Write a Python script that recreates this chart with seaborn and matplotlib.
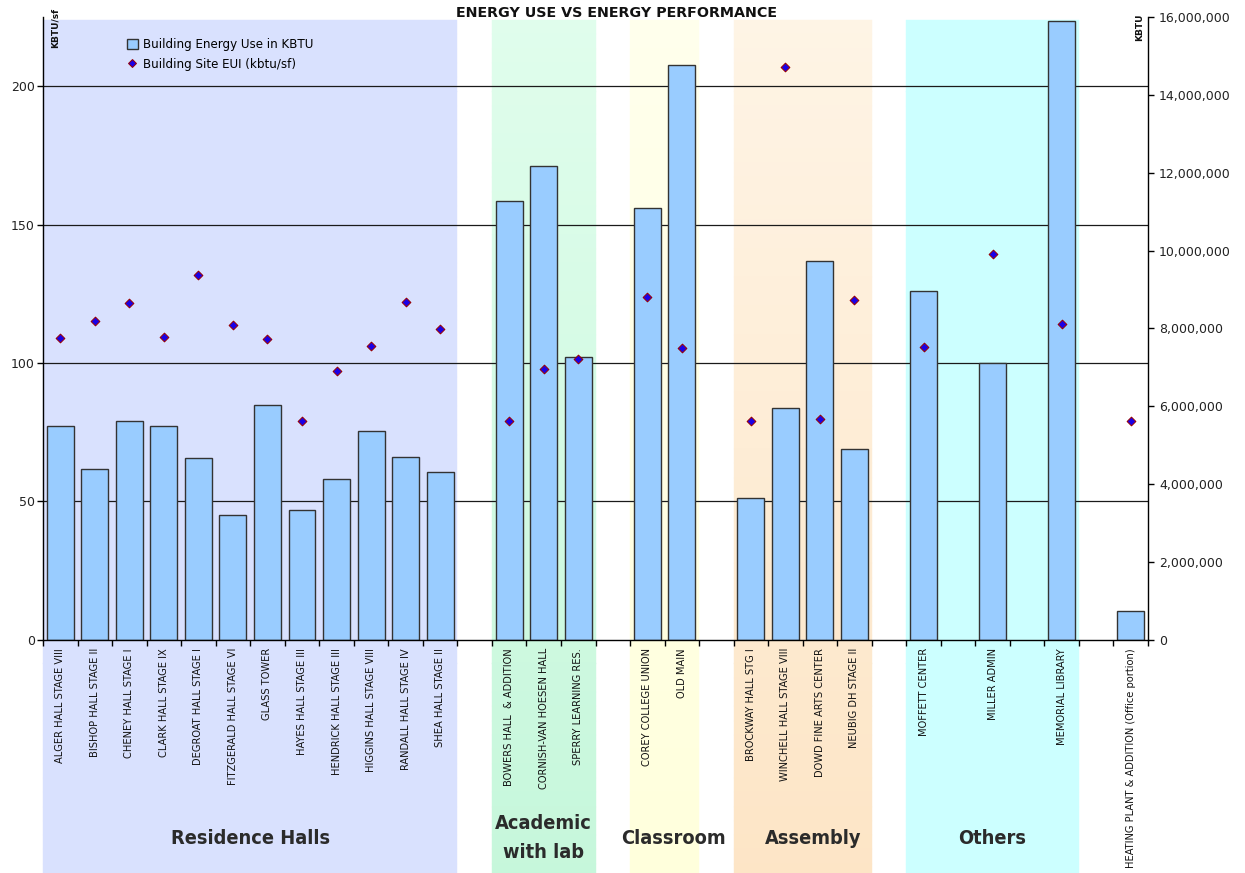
import os
import numpy as np
import pandas as pd
import matplotlib
matplotlib.use("Agg")
import matplotlib.pyplot as plt
import matplotlib.transforms as mtransforms
from matplotlib import font_manager
from matplotlib.patches import Rectangle, Patch
from matplotlib.lines import Line2D
from matplotlib.ticker import FuncFormatter, MultipleLocator, FixedLocator
import seaborn as sns

# ---- data ---------------------------------------------------------------
# One entry per x slot; "" is an empty spacer slot between building groups.
buildings = [
    "ALGER HALL STAGE VIII", "BISHOP HALL STAGE II", "CHENEY HALL STAGE I",
    "CLARK HALL STAGE IX", "DEGROAT HALL STAGE I", "FITZGERALD HALL STAGE VI",
    "GLASS TOWER", "HAYES HALL STAGE III", "HENDRICK HALL STAGE III",
    "HIGGINS HALL STAGE VIII", "RANDALL HALL STAGE IV", "SHEA HALL STAGE II",
    "",
    "BOWERS HALL  & ADDITION", "CORNISH-VAN HOESEN HALL", "SPERRY LEARNING RES.",
    "",
    "COREY COLLEGE UNION", "OLD MAIN",
    "",
    "BROCKWAY HALL STG I", "WINCHELL HALL STAGE VIII", "DOWD FINE ARTS CENTER",
    "NEUBIG DH STAGE II",
    "",
    "MOFFETT CENTER", "", "MILLER ADMIN", "", "MEMORIAL LIBRARY", "",
    "HEATING PLANT & ADDITION (Office portion)",
]

nan = np.nan
energy_kbtu = [
    5.50e6, 4.39e6, 5.63e6, 5.50e6, 4.68e6, 3.20e6, 6.04e6, 3.34e6, 4.13e6,
    5.35e6, 4.70e6, 4.30e6,
    nan,
    11.26e6, 12.16e6, 7.26e6,
    nan,
    11.10e6, 14.76e6,
    nan,
    3.63e6, 5.95e6, 9.74e6, 4.89e6,
    nan,
    8.95e6, nan, 7.12e6, nan, 15.89e6, nan,
    0.75e6,
]

site_eui = [
    108.9, 115.0, 121.7, 109.4, 131.7, 113.7, 108.5, 78.9, 97.0,
    106.1, 122.1, 112.1,
    nan,
    79.1, 97.7, 101.4,
    nan,
    123.8, 105.4,
    nan,
    79.1, 206.9, 79.6, 122.6,
    nan,
    105.6, nan, 139.2, nan, 114.0, nan,
    79.0,
]

group_names = ["Residence Halls", "Academic\nwith lab", "Classroom", "Assembly", "Others"]
group_first = ["ALGER HALL STAGE VIII", "BOWERS HALL  & ADDITION", "COREY COLLEGE UNION",
               "BROCKWAY HALL STG I", "MOFFETT CENTER"]
group_last = ["SHEA HALL STAGE II", "SPERRY LEARNING RES.", "OLD MAIN",
              "NEUBIG DH STAGE II", "MEMORIAL LIBRARY"]

# ---- styling ------------------------------------------------------------
group_top_colors = ["#D9E1FE", "#E0FDEC", "#FFFFEC", "#FEF4E5", "#CCFFFF"]
group_bottom_colors = ["#D9E1FE", "#C6F7DB", "#FFFFDC", "#FDE5C6", "#CCFFFF"]
group_label_shift = [0.0, 0.0, 0.25, 0.3, 0.0]
BAR_COLOR = "#99CCFF"
BAR_EDGE = "#333333"
DOT_FACE = "#1A00E6"
DOT_EDGE = "#990000"
LEFT_MAX = 225
RIGHT_MAX = 16e6


def font_file(candidates):
    """Return FontProperties for the first installed file among candidates."""
    files = {os.path.basename(f.fname).lower(): f.fname
             for f in font_manager.fontManager.ttflist}
    for c in candidates:
        if c.lower() in files:
            return font_manager.FontProperties(fname=files[c.lower()])
    return None


narrow_fp = font_file([
    "LiberationSansNarrow-Regular.ttf", "DejaVuSansCondensed.ttf",
    "RobotoCondensed-Regular.ttf", "NotoSans-Condensed.ttf",
    "NotoSans-CondensedRegular.ttf", "OpenSans-CondensedRegular.ttf",
]) or font_manager.FontProperties(family="DejaVu Sans")

heavy_fp = font_file([
    "NotoSans-CondensedBlack.ttf", "NotoSans-ExtraCondensedBlack.ttf",
    "NotoSans-CondensedExtraBold.ttf", "LiberationSansNarrow-Bold.ttf",
    "DejaVuSansCondensed-Bold.ttf", "RobotoCondensed-Bold.ttf",
    "NotoSans-CondensedBold.ttf", "OpenSans-CondensedBold.ttf",
]) or font_manager.FontProperties(family="DejaVu Sans", weight="bold")

plt.rcParams["font.family"] = ["DejaVu Sans"]

df = pd.DataFrame({
    "slot": np.arange(len(buildings)),
    "label": buildings,
    "kbtu": energy_kbtu,
    "eui": site_eui,
})

W, H = 1245, 873
fig = plt.figure(figsize=(W / 100, H / 100), dpi=100)
ax_left_px, ax_right_px, ax_top_px, ax_bot_px = 43, 1148, 17, 639.7
ax = fig.add_axes([ax_left_px / W, 1 - ax_bot_px / H,
                   (ax_right_px - ax_left_px) / W, (ax_bot_px - ax_top_px) / H])

# bars (energy use, right-hand scale)
sns.barplot(data=df.dropna(subset=["kbtu"]), x="slot", y="kbtu", native_scale=True,
            width=0.78, color=BAR_COLOR, edgecolor=BAR_EDGE, linewidth=1.0,
            saturation=1, ax=ax, zorder=2)

# site EUI diamonds (left-hand scale)
ax2 = ax.twinx()
sns.scatterplot(data=df.dropna(subset=["eui"]), x="slot", y="eui", marker="D", s=20,
                color=DOT_FACE, edgecolor=DOT_EDGE, linewidth=0.7, ax=ax2,
                zorder=3, legend=False)

n = len(buildings)
ax.set_xlim(-0.5, n - 0.5)
ax.set_ylim(0, RIGHT_MAX)
ax2.set_ylim(0, LEFT_MAX)
for a in (ax, ax2):
    a.set_xlabel("")
    a.set_ylabel("")

# y axes: energy on the right, EUI on the left
ax.yaxis.tick_right()
ax.yaxis.set_major_locator(MultipleLocator(2e6))
ax.yaxis.set_major_formatter(FuncFormatter(lambda v, p: f"{v:,.0f}"))
ax.tick_params(axis="y", direction="out", length=4, width=1, pad=4,
               labelsize=9, labelcolor="#222222", right=True, left=False)
ax2.yaxis.tick_left()
ax2.yaxis.set_major_locator(MultipleLocator(50))
ax2.tick_params(axis="y", direction="out", length=4, width=1, pad=2,
                labelsize=9, labelcolor="#222222", left=True, right=False)

# x axis: names at slot centres, tick marks between slots
ax.xaxis.set_major_locator(FixedLocator(df["slot"].tolist()))
ax.set_xticklabels(buildings, rotation=90, va="top", ha="center",
                   fontproperties=narrow_fp, fontsize=8, color="#111111")
ax.xaxis.set_minor_locator(FixedLocator(np.arange(-0.5, n, 1.0)))
ax.tick_params(axis="x", which="major", length=0, pad=6)
ax.tick_params(axis="x", which="minor", direction="out", length=4, width=1)

ax.spines["top"].set_visible(False)
for s in ["left", "right", "bottom"]:
    ax.spines[s].set_color("#000000")
    ax.spines[s].set_linewidth(1.0)
for s in ax2.spines:
    ax2.spines[s].set_visible(False)
ax.set_facecolor("none")

# horizontal grid at the EUI ticks, drawn behind the bars
for v in ax2.get_yticks():
    if 0 < v < LEFT_MAX:
        ax.axhline(v * RIGHT_MAX / LEFT_MAX, color="#1A1A1A", lw=0.9, zorder=1)

# group background bands, running down through the label area
xform = ax.get_xaxis_transform()
band_top = (ax_bot_px - 20) / (ax_bot_px - ax_top_px)
band_bot = (ax_bot_px - H - 5) / (ax_bot_px - ax_top_px)
label_xform = mtransforms.blended_transform_factory(ax.transData, fig.transFigure)
strips = 60
group_texts = []
for name, first, last, ctop, cbot, shift in zip(group_names, group_first, group_last,
                                                 group_top_colors, group_bottom_colors,
                                                 group_label_shift):
    i0, i1 = buildings.index(first), buildings.index(last)
    x0, x1 = i0 - 0.5, i1 + 0.5
    c_top = np.array(matplotlib.colors.to_rgb(ctop))
    c_bot = np.array(matplotlib.colors.to_rgb(cbot))
    edges = np.linspace(band_top, band_bot, strips + 1)
    for k in range(strips):
        t = (k + 0.5) / strips
        col = c_top * (1 - t) + c_bot * t
        ax.add_patch(Rectangle((x0, edges[k + 1]), x1 - x0, edges[k] - edges[k + 1],
                               transform=xform, facecolor=col, edgecolor=col, lw=0.3,
                               clip_on=False, zorder=0))
    group_texts.append(ax.text((x0 + x1) / 2 + shift, 1 - 838 / H, name,
                               transform=label_xform, ha="center", va="center",
                               fontproperties=heavy_fp, fontsize=17, color="#2B2B2B",
                               linespacing=1.7, clip_on=False))

# titles and axis captions
fig.text(616 / W, 1 - 13 / H, "ENERGY USE VS ENERGY PERFORMANCE", ha="center",
         va="center", fontsize=10.3, fontweight="bold", color="#111111")
fig.text(55 / W, 1 - 28 / H, "KBTU/sf", rotation=90, ha="center", va="center",
         fontsize=6.5, fontweight="bold", color="#111111")
fig.text(1140 / W, 1 - 27 / H, "KBTU", rotation=90, ha="center", va="center",
         fontsize=6.5, fontweight="bold", color="#111111")

# legend
handles = [
    Patch(facecolor=BAR_COLOR, edgecolor=BAR_EDGE, linewidth=1.0),
    Line2D([], [], marker="D", linestyle="none", markersize=4.5,
           markerfacecolor=DOT_FACE, markeredgecolor=DOT_EDGE, markeredgewidth=0.7),
]
fig.legend(handles, ["Building Energy Use in KBTU", "Building Site EUI (kbtu/sf)"],
           loc="upper left", bbox_to_anchor=(122 / W, 1 - 33 / H), frameon=False,
           fontsize=8.6, handlelength=0.9, handleheight=0.9, handletextpad=0.45,
           labelspacing=0.6, borderaxespad=0)

# fit text sizes to the available room: the building names run ~121 px
# ("ALGER ..."), the longest must end above the figure edge (~220 px),
# and the "Residence Halls" caption is ~159 px wide
fig.canvas.draw()
renderer = fig.canvas.get_renderer()
tick_labels = ax.get_xticklabels()
lengths = {lbl.get_text(): lbl.get_window_extent(renderer).height for lbl in tick_labels}
size = 8.0
h_first = lengths.get(buildings[0], 0)
h_long = max(lengths.values())
if h_first > 0:
    size = min(8 * 121 / h_first, 8 * 220 / h_long)
    for lbl in tick_labels:
        lbl.set_fontsize(size)
w = group_texts[0].get_window_extent(renderer).width
if w > 0:
    g_size = 17 * 159 / w
    for t in group_texts:
        t.set_fontsize(g_size)

fig.savefig("out.png", dpi=100)
